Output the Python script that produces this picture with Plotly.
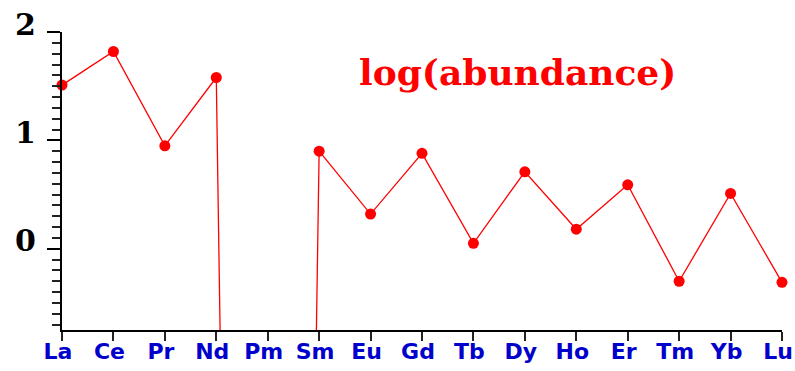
import plotly.graph_objects as go

elements = ["La", "Ce", "Pr", "Nd", "Pm", "Sm", "Eu", "Gd", "Tb", "Dy", "Ho", "Er", "Tm", "Yb", "Lu"]
# log10 abundance; Pm has no stable isotope -> effectively log(0), drawn as a very low value
log_abundance = [1.51, 1.82, 0.95, 1.58, -30.0, 0.90, 0.32, 0.88, 0.05, 0.71, 0.18, 0.59, -0.30, 0.51, -0.31]
y_tick_vals = [0, 1, 2]
y_tick_text = ["0", "1", "2"]
title_text = "log(abundance)"

RED = "#ff0000"

fig = go.Figure()
fig.add_trace(go.Scatter(
    x=elements, y=log_abundance, mode="lines+markers",
    line=dict(color=RED, width=1.3),
    marker=dict(color=RED, size=11, symbol="circle"),
    cliponaxis=False, showlegend=False, hoverinfo="skip",
))

annotations = [dict(
    text=title_text, xref="paper", yref="paper", x=0.633, y=0.865,
    xanchor="center", yanchor="middle", showarrow=False,
    font=dict(family="DejaVu Serif", size=36, color=RED, weight="bold"),
)]
# y tick labels sit just above their tick marks, as in the original
for v, t in zip(y_tick_vals, y_tick_text):
    annotations.append(dict(
        text=t, xref="paper", yref="y", x=0, y=v,
        xanchor="center", yanchor="middle", xshift=-37, yshift=8,
        showarrow=False,
        font=dict(family="DejaVu Serif", size=30, color="black", weight="bold"),
    ))

fig.update_layout(
    width=795, height=371,
    margin=dict(l=62, r=13, t=32, b=41),
    paper_bgcolor="white", plot_bgcolor="white",
    xaxis=dict(
        type="category", range=[0, 14], automargin=False,
        showgrid=False, zeroline=False,
        showline=True, linecolor="black", linewidth=2,
        ticks="outside", ticklen=9, tickwidth=2, tickcolor="#222222",
        tickfont=dict(family="DejaVu Sans", size=22, color="#0000cc", weight="bold"),
        ticklabelstandoff=-8, ticklabelshift=-4,
    ),
    yaxis=dict(
        range=[-0.75, 2], automargin=False,
        showgrid=False, zeroline=False,
        showline=True, linecolor="black", linewidth=2,
        tickvals=y_tick_vals, showticklabels=False,
        ticks="outside", ticklen=13, tickwidth=2, tickcolor="black",
        minor=dict(dtick=0.1, ticks="outside", ticklen=8, tickwidth=2, tickcolor="#222222", showgrid=False),
    ),
    annotations=annotations,
)

fig.write_html(
    "out.html",
    config={"displayModeBar": False},
    post_script="document.body.style.margin='0';document.body.style.overflow='hidden';",
)
